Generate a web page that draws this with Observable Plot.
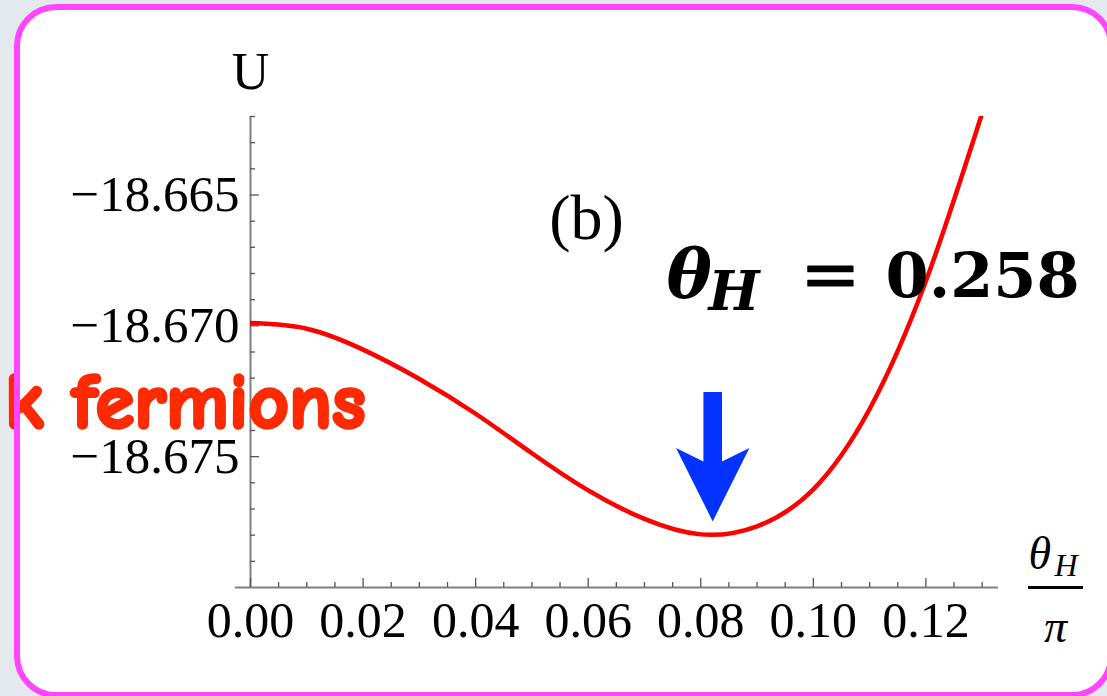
<!DOCTYPE html>
<html>
<head>
<meta charset="utf-8">
<script src="https://cdn.jsdelivr.net/npm/d3@7"></script>
<script src="https://cdn.jsdelivr.net/npm/@observablehq/plot@0.6"></script>
<style>
  html, body { margin: 0; padding: 0; }
  body { width: 1107px; height: 696px; overflow: hidden; position: relative; background: #e4e9ee; }
  #card { position: absolute; left: 14px; top: 4px; width: 1100px; height: 694px; box-sizing: border-box; background: #ffffff; border-radius: 42px; }
  #chart { position: absolute; left: 0; top: 0; }
  #edge { position: absolute; left: 14px; top: 4px; width: 1100px; height: 694px; box-sizing: border-box; border: 6px solid #ff45ff; border-radius: 42px; pointer-events: none; }
</style>
</head>
<body>
<div id="card"></div>
<div id="chart"></div>
<div id="edge"></div>
<script>
// Effective potential U as a function of theta_H / pi
const thetaOverPi = [0, 0.01, 0.02, 0.03, 0.04, 0.05, 0.06, 0.07, 0.08, 0.09, 0.10, 0.11, 0.12, 0.1298];
const potentialU  = [-18.66989, -18.67011, -18.67091, -18.67203, -18.67336, -18.67487, -18.67629, -18.67738, -18.67797, -18.67766, -18.67625, -18.67318, -18.66829, -18.66200];

// Location of the minimum
const thetaH = 0.258;

// Axis ticks
const xMajorTicks = [0, 0.02, 0.04, 0.06, 0.08, 0.10, 0.12];
const xMinorTicks = [0.005, 0.01, 0.015, 0.025, 0.03, 0.035, 0.045, 0.05, 0.055, 0.065, 0.07, 0.075, 0.085, 0.09, 0.095, 0.105, 0.11, 0.115, 0.125, 0.13];
const yMajorTicks = [-18.675, -18.670, -18.665];
const yMinorTicks = [-18.679, -18.678, -18.677, -18.676, -18.674, -18.673, -18.672, -18.671, -18.669, -18.668, -18.667, -18.666, -18.664, -18.663, -18.662];

const curve = thetaOverPi.map((t, i) => ({t, U: potentialU[i]}));
const uMin = d3.min(potentialU);

const ML = 250, MT = 116;
const serif = "'Liberation Serif', 'Times New Roman', serif";
const boldSerif = "'DejaVu Serif', serif";

// text placed relative to the top-left corner of the page
function note(str, px, py, opts = {}) {
  return Plot.text([str], {
    text: d => d,
    frameAnchor: "top-left",
    dx: px - ML,
    dy: py - MT,
    lineAnchor: "bottom",
    fill: "black",
    stroke: "none",
    ...opts
  });
}

// block arrow, tip at the origin, pointing down
const blockArrow = {
  draw(ctx) {
    ctx.moveTo(0, 0);
    ctx.lineTo(-36.7, -73.4);
    ctx.lineTo(-9.3, -60);
    ctx.lineTo(-9.3, -129.4);
    ctx.lineTo(9.3, -129.4);
    ctx.lineTo(9.3, -60);
    ctx.lineTo(36.7, -73.4);
    ctx.closePath();
  }
};

const tickColor = "#555";

const chart = Plot.plot({
  width: 1107,
  height: 696,
  marginLeft: ML,
  marginRight: 109,
  marginTop: MT,
  marginBottom: 109,
  x: {domain: [0, 0.1329]},
  y: {domain: [-18.680, -18.662]},
  style: {background: "transparent", fontFamily: serif, overflow: "visible"},
  marks: [
    // axis lines
    Plot.ruleY([-18.680], {x1: -0.0027, x2: 0.1329, stroke: "#808080", strokeWidth: 2}),
    Plot.ruleX([0], {stroke: "#808080", strokeWidth: 2}),
    // ticks pointing into the plot
    Plot.axisX(xMajorTicks, {tickSize: -9, tickFormat: () => "", label: null, stroke: tickColor, strokeWidth: 1.3}),
    Plot.axisX(xMinorTicks, {tickSize: -5, tickFormat: () => "", label: null, stroke: tickColor, strokeWidth: 1.3}),
    Plot.axisY(yMajorTicks, {anchor: "left", tickSize: -9, tickFormat: () => "", label: null, stroke: tickColor, strokeWidth: 1.3}),
    Plot.axisY(yMinorTicks, {anchor: "left", tickSize: -5, tickFormat: () => "", label: null, stroke: tickColor, strokeWidth: 1.3}),
    // tick labels
    Plot.axisX(xMajorTicks, {tickSize: 0, tickPadding: 14, tickFormat: d3.format(".2f"), label: null, fontSize: 50, fontFamily: serif, fill: "black"}),
    Plot.axisY(yMajorTicks, {anchor: "left", tickSize: 0, tickPadding: 11, tickFormat: d3.format(".3f"), label: null, fontSize: 51, fontFamily: serif, fill: "black"}),
    // potential curve
    Plot.line(curve, {x: "t", y: "U", stroke: "#ff0000", strokeWidth: 4.5, curve: "natural", clip: true}),
    // arrow marking the minimum
    Plot.dot([{t: thetaH / Math.PI, U: uMin}], {x: "t", y: "U", r: 10, symbol: blockArrow, fill: "#0433ff", stroke: "none", dy: -13}),
    // axis titles
    note("U", 250, 88, {textAnchor: "middle", fontSize: 52, fontFamily: serif}),
    note("θ", 1028, 568, {textAnchor: "start", fontSize: 46, fontStyle: "italic", fontFamily: serif}),
    note("H", 1054, 575, {textAnchor: "start", fontSize: 32, fontStyle: "italic", fontFamily: serif}),
    Plot.ruleY([-18.680], {x1: 0.13824, x2: 0.1480, stroke: "black", strokeWidth: 3}),
    note("π", 1055, 641, {textAnchor: "middle", fontSize: 46, fontStyle: "italic", fontFamily: serif}),
    // panel label and value of the minimum
    note("(b)", 586, 238, {textAnchor: "middle", fontSize: 64, fontFamily: serif}),
    note("θ", 666, 296, {textAnchor: "start", fontSize: 68, fontStyle: "italic", fontWeight: "bold", fontFamily: boldSerif}),
    note("H", 708, 309, {textAnchor: "start", fontSize: 54, fontStyle: "italic", fontWeight: "bold", fontFamily: boldSerif}),
    note("=", 830, 298, {textAnchor: "middle", fontSize: 72, fontWeight: "normal", fontFamily: boldSerif, stroke: "black", strokeWidth: 1.2}),
    note(String(thetaH), 885, 296, {textAnchor: "start", fontSize: 62, fontWeight: "bold", fontFamily: boldSerif}),
    // slide caption running across the panel
    note("k fermions", 365, 427, {textAnchor: "end", fontSize: 79, fontWeight: "bold", fill: "#ff2a00", stroke: "#ff2a00", strokeWidth: 3.5, strokeLinejoin: "round", fontFamily: "'Comic Sans MS', 'Comic Neue', 'DejaVu Sans', sans-serif"})
  ]
});

document.getElementById("chart").appendChild(chart);
</script>
</body>
</html>
